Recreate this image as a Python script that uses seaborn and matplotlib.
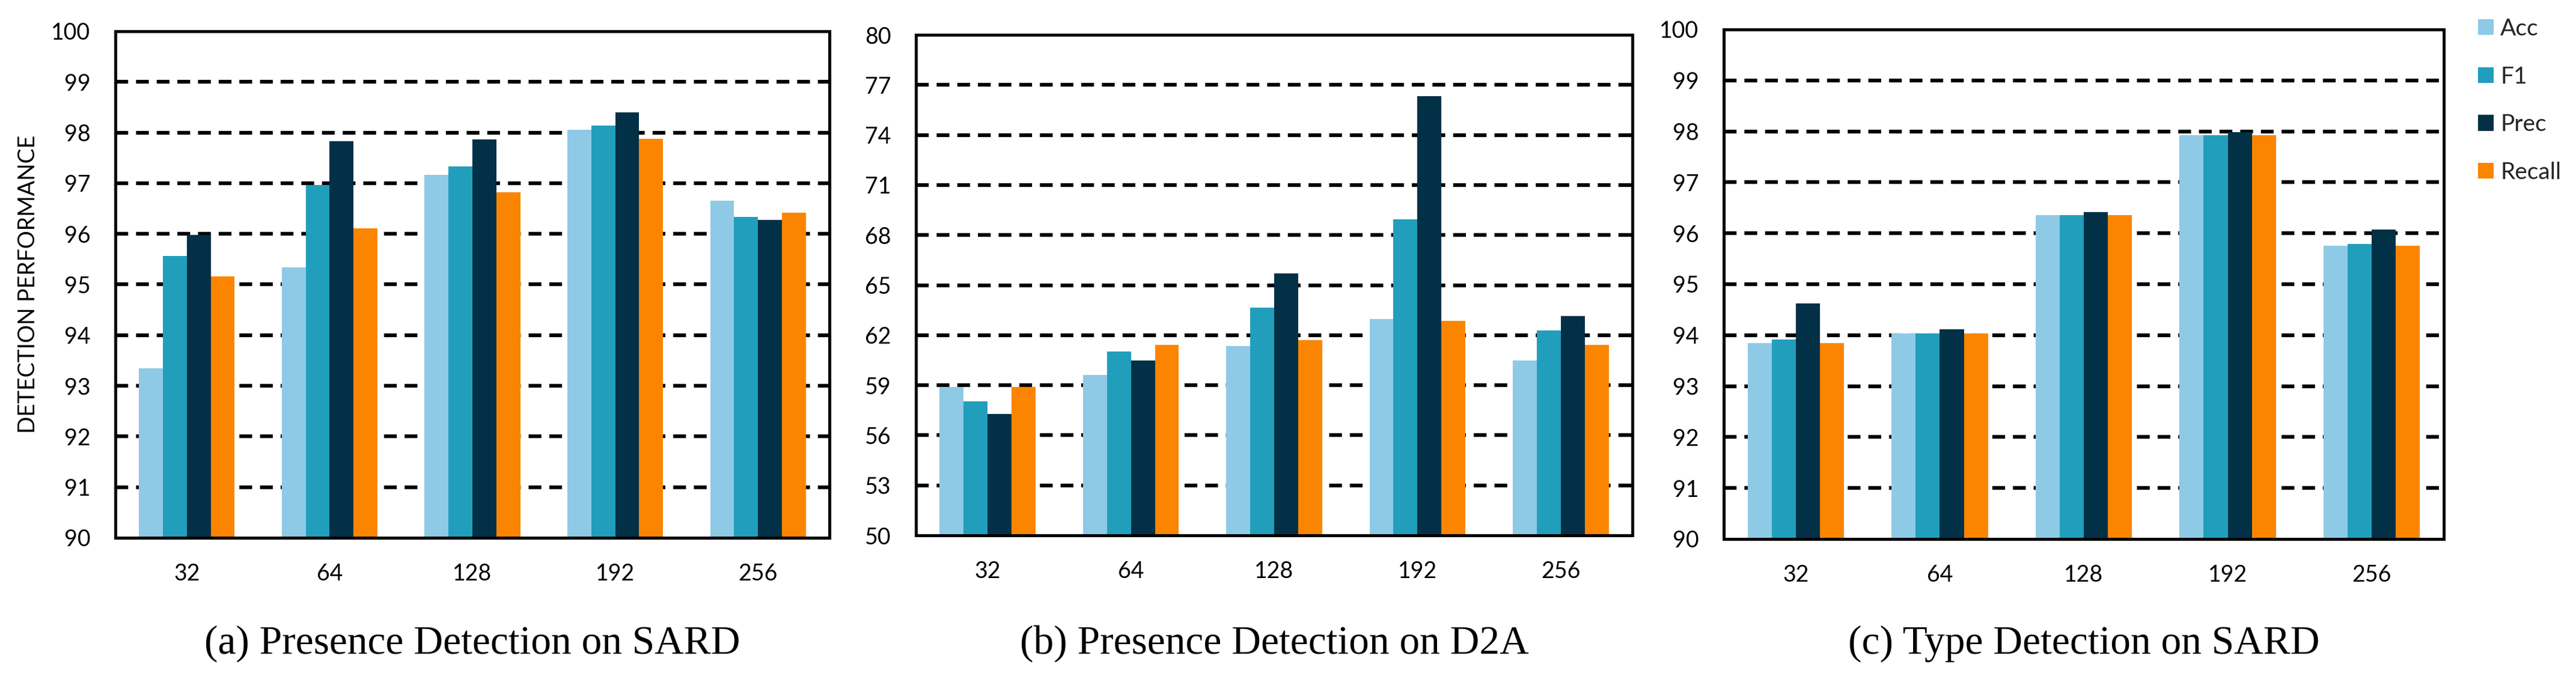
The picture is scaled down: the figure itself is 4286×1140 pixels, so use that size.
import numpy as np
import pandas as pd
import matplotlib
matplotlib.use("Agg")
import matplotlib.pyplot as plt
import seaborn as sns

# ---------------- data ----------------
sizes = ["32", "64", "128", "192", "256"]
metrics = ["Acc", "F1", "Prec", "Recall"]
colors = ["#8ECAE6", "#219EBC", "#023047", "#FB8500"]

sard_presence_acc = [93.35, 95.34, 97.17, 98.06, 96.66]
sard_presence_f1 = [95.56, 96.96, 97.33, 98.14, 96.33]
sard_presence_prec = [95.98, 97.83, 97.86, 98.40, 96.28]
sard_presence_recall = [95.16, 96.11, 96.82, 97.88, 96.42]

d2a_presence_acc = [58.89, 59.62, 61.35, 62.97, 60.49]
d2a_presence_f1 = [58.03, 61.01, 63.65, 68.96, 62.29]
d2a_presence_prec = [57.27, 60.49, 65.72, 76.31, 63.15]
d2a_presence_recall = [58.89, 61.43, 61.72, 62.87, 61.43]

sard_type_acc = [93.85, 94.03, 96.36, 97.93, 95.76]
sard_type_f1 = [93.92, 94.03, 96.36, 97.93, 95.79]
sard_type_prec = [94.62, 94.12, 96.42, 97.98, 96.07]
sard_type_recall = [93.85, 94.03, 96.36, 97.93, 95.76]

yticks_sard = list(range(90, 101, 1))
yticks_d2a = list(range(50, 81, 3))

captions = ["(a) Presence Detection on SARD",
            "(b) Presence Detection on D2A",
            "(c) Type Detection on SARD"]
ylabel = "DETECTION PERFORMANCE"


def long_frame(acc, f1, prec, rec):
    rows = []
    for m, vals in zip(metrics, [acc, f1, prec, rec]):
        for s, v in zip(sizes, vals):
            rows.append({"size": s, "metric": m, "value": v})
    return pd.DataFrame(rows)


panels = [
    (long_frame(sard_presence_acc, sard_presence_f1, sard_presence_prec, sard_presence_recall), yticks_sard),
    (long_frame(d2a_presence_acc, d2a_presence_f1, d2a_presence_prec, d2a_presence_recall), yticks_d2a),
    (long_frame(sard_type_acc, sard_type_f1, sard_type_prec, sard_type_recall), yticks_sard),
]

# ---------------- style ----------------
sns.set_theme(style="white")
plt.rcParams["font.family"] = ["Lato", "DejaVu Sans"]

W, H = 4286, 1140
DPI = 100
fig = plt.figure(figsize=(W / DPI, H / DPI), dpi=DPI)

# axes rectangles in pixel coordinates (left, top, right, bottom)
rects_px = [(192, 52, 1380, 895), (1524, 58, 2716, 891), (2868, 49, 4066, 897)]

tick_fs = 27
spine_lw = 3.6
grid_lw = 4.5

for i, ((df, yt), (l, t, r, b)) in enumerate(zip(panels, rects_px)):
    ax = fig.add_axes([l / W, 1 - b / H, (r - l) / W, (b - t) / H])
    sns.barplot(data=df, x="size", y="value", hue="metric", order=sizes,
                hue_order=metrics, palette=colors, saturation=1, width=0.67,
                ax=ax, legend=(i == 2), zorder=3)
    ax.set_ylim(yt[0], yt[-1])
    ax.set_yticks(yt)
    ax.set_yticklabels([str(v) for v in yt])
    ax.set_xlabel("")
    ax.set_ylabel("")
    ax.tick_params(axis="both", length=0, labelsize=tick_fs, pad=30, colors="black")
    ax.yaxis.grid(True, color="black", linewidth=grid_lw, linestyle=(0, (3.4, 2.1)), zorder=0)
    ax.xaxis.grid(False)
    ax.set_axisbelow(True)
    gl = ax.get_ygridlines()
    gl[0].set_visible(False)
    gl[-1].set_visible(False)
    for sp in ax.spines.values():
        sp.set_visible(True)
        sp.set_color("black")
        sp.set_linewidth(spine_lw)
        sp.set_zorder(5)
    for p in ax.patches:
        p.set_linewidth(0)

    fig.text(((l + r) / 2) / W, 1 - 1088 / H, captions[i], ha="center", va="baseline",
             fontsize=48.5, family=["Liberation Serif", "DejaVu Serif"], color="black")

    if i == 2:
        leg = ax.legend(loc="upper left", bbox_to_anchor=(4123 / W, 1 - 30 / H),
                        bbox_transform=fig.transFigure, frameon=False,
                        fontsize=28, handlelength=0.66, handleheight=0.66,
                        handletextpad=0.3, labelspacing=1.12, borderpad=0,
                        borderaxespad=0)

fig.text(47 / W, 1 - 473 / H, ylabel, rotation=90, ha="center", va="center",
         fontsize=tick_fs, color="black")

fig.savefig("out.png", dpi=DPI, facecolor="white")
